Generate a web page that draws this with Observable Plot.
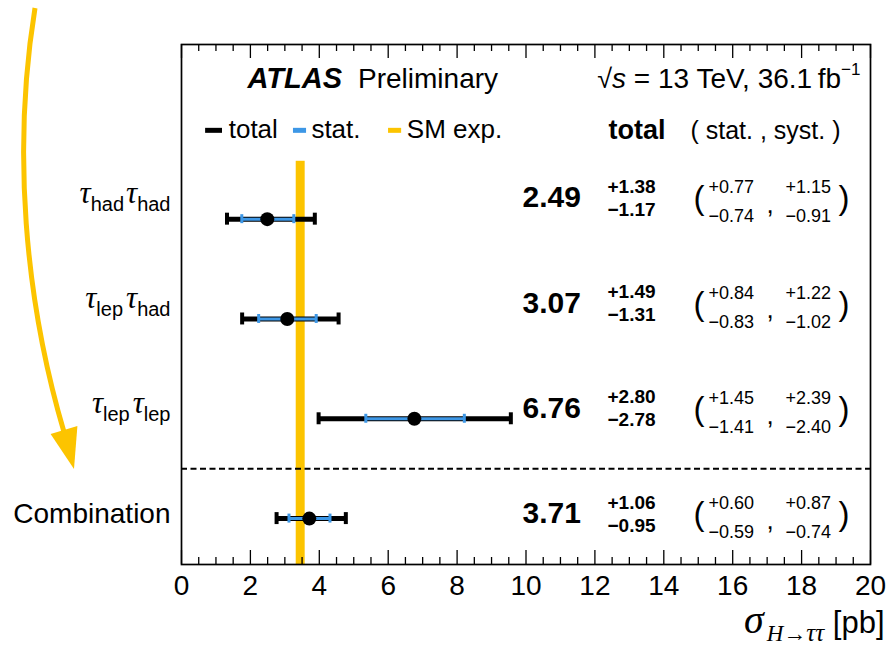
<!DOCTYPE html>
<html><head><meta charset="utf-8">
<script src="https://cdn.jsdelivr.net/npm/d3@7"></script>
<script src="https://cdn.jsdelivr.net/npm/@observablehq/plot@0.6"></script>
<style>body{margin:0;background:#fff;} svg{display:block}</style>
</head><body><div id="chart"></div>
<script>
// ---- data (bottom row first) ----
const channels = ["Combination", "τlepτlep", "τlepτhad", "τhadτhad"];
const central   = [3.71, 6.76, 3.07, 2.49];
const totalUp   = [1.06, 2.80, 1.49, 1.38];
const totalDown = [0.95, 2.78, 1.31, 1.17];
const statUp    = [0.60, 1.45, 0.84, 0.77];
const statDown  = [0.59, 1.41, 0.83, 0.74];
const systUp    = [0.87, 2.39, 1.22, 1.15];
const systDown  = [0.74, 2.40, 1.02, 0.91];
const smExpected = 3.46;
const smUncertainty = 0.13;
const xTickLabels = [0, 2, 4, 6, 8, 10, 12, 14, 16, 18, 20];
const legendLabels = ["total", "stat.", "SM exp."];
const legendColors = ["#000000", "#3d97e6", "#fcc400"];

const sans = "Liberation Sans, Arial, Helvetica, sans-serif";
const serif = "Liberation Serif, 'DejaVu Serif', serif";
const blue = legendColors[1], yellow = legendColors[2];
const f2 = d3.format(".2f");
const plus = v => "+" + f2(v), minus = v => "\u2212" + f2(v);

const rows = channels.map((name, i) => ({
  name, i, v: central[i], tu: totalUp[i], td: totalDown[i],
  su: statUp[i], sd: statDown[i], yu: systUp[i], yd: systDown[i],
  ty: i + 0.05 + 0.055 * i
}));
const minorTicks = d3.range(0, 20.001, 0.5).filter(t => t % 2 !== 0);
const Y0 = -0.46, Y1 = 4.75;

const rowText = (text, dx, dy, fontSize, fontWeight = "normal") =>
  Plot.text(rows, {y: "ty", frameAnchor: "left", textAnchor: "start", lineAnchor: "middle",
    dx, dy, text, fontSize, fontWeight, fill: "black"});

const svg = Plot.plot({
  width: 887, height: 648,
  marginLeft: 181, marginRight: 17, marginTop: 44, marginBottom: 84,
  style: {fontFamily: sans, background: "white", overflow: "visible", color: "black"},
  x: {domain: [0, 20], axis: null},
  y: {domain: [Y0, Y1], axis: null},
  color: {type: "identity"},
  marks: [
    // SM expectation band
    Plot.rect([smExpected], {x1: d => d - smUncertainty, x2: d => d + smUncertainty, y1: Y0, y2: 3.58, fill: yellow}),
    // separator
    Plot.ruleY([0.5], {stroke: "black", strokeWidth: 2, strokeDasharray: "6 3.5"}),
    // total error bars
    Plot.ruleY(rows, {y: "i", x1: d => d.v - d.td, x2: d => d.v + d.tu, stroke: "black", strokeWidth: 5}),
    Plot.ruleX(rows.flatMap(d => [{x: d.v - d.td, i: d.i}, {x: d.v + d.tu, i: d.i}]),
      {x: "x", y1: d => d.i - 0.06, y2: d => d.i + 0.06, stroke: "black", strokeWidth: 4}),
    // stat error bars
    Plot.ruleY(rows, {y: "i", x1: d => d.v - d.sd, x2: d => d.v + d.su, stroke: blue, strokeWidth: 3}),
    Plot.ruleX(rows.flatMap(d => [{x: d.v - d.sd, i: d.i}, {x: d.v + d.su, i: d.i}]),
      {x: "x", y1: d => d.i - 0.045, y2: d => d.i + 0.045, stroke: blue, strokeWidth: 3}),
    Plot.dot(rows, {x: "v", y: "i", r: 7, fill: "black"}),
    // frame and ticks
    Plot.frame({stroke: "black", strokeWidth: 1.7}),
    Plot.ruleX(xTickLabels, {x: d => d, y1: Y0, y2: Y0 + 0.14, stroke: "black", strokeWidth: 1.3}),
    Plot.ruleX(xTickLabels, {x: d => d, y1: Y1 - 0.14, y2: Y1, stroke: "black", strokeWidth: 1.3}),
    Plot.ruleX(minorTicks, {x: d => d, y1: Y0, y2: Y0 + 0.07, stroke: "black", strokeWidth: 1.3}),
    Plot.ruleX(minorTicks, {x: d => d, y1: Y1 - 0.07, y2: Y1, stroke: "black", strokeWidth: 1.3}),
    Plot.text(xTickLabels, {x: d => d, frameAnchor: "bottom", lineAnchor: "top", dy: 11, fontSize: 28, text: d => String(d), fill: "black"}),
    // channel labels
    Plot.text(rows, {y: "ty", frameAnchor: "left", textAnchor: "end", lineAnchor: "middle", dx: -11, text: "name", fontSize: 28, fill: "black"}),
    // numbers
    rowText(d => f2(d.v), 341, 0, 30, "bold"),
    rowText(d => plus(d.tu), 426, -11, 19, "bold"),
    rowText(d => minus(d.td), 426, 12, 19, "bold"),
    rowText(() => "(", 512, 1, 33),
    rowText(d => plus(d.su), 527, -10, 18),
    rowText(d => minus(d.sd), 527, 19, 18),
    rowText(() => ",", 585, 7, 26),
    rowText(d => plus(d.yu), 604, -10, 18),
    rowText(d => minus(d.yd), 604, 19, 18),
    rowText(() => ")", 657, 1, 33),
    // header
    Plot.text(["ATLASHEADER"], {frameAnchor: "top-left", textAnchor: "start", lineAnchor: "middle", dx: 66, dy: 33, text: d => d, fontSize: 28, fill: "black"}),
    Plot.text(["ENERGYHEADER"], {frameAnchor: "top-right", textAnchor: "end", lineAnchor: "middle", dx: -10, dy: 33, text: d => d, fontSize: 28, fill: "black"}),
    Plot.text(["total"], {frameAnchor: "top-left", textAnchor: "start", lineAnchor: "middle", dx: 427, dy: 86, text: d => d, fontSize: 27, fontWeight: "bold", fill: "black"}),
    Plot.text(["( stat. , syst. )"], {frameAnchor: "top-left", textAnchor: "start", lineAnchor: "middle", dx: 509, dy: 86, text: d => d, fontSize: 25, fill: "black"}),
    // legend
    Plot.ruleY(legendLabels, {y: 3.89, x1: (d, i) => [0.70, 3.25, 6.01][i], x2: (d, i) => [1.19, 3.63, 6.39][i], stroke: (d, i) => legendColors[i], strokeWidth: 5}),
    Plot.text(legendLabels, {frameAnchor: "top", textAnchor: "start", lineAnchor: "middle", dy: 85, x: (d, i) => [1.37, 3.77, 6.54][i], text: d => d, fontSize: 26, fill: "black"}),
    // x axis label
    Plot.text(["XLABEL"], {frameAnchor: "bottom-right", textAnchor: "end", lineAnchor: "middle", dx: 14, dy: 68, text: d => d, fontSize: 28, fill: "black"})
  ]
});

// ---- rich text (sub/superscripts, Greek) ----
const tau = {family: serif, style: "italic", size: 31};
const richSpecs = {
  "τhadτhad": [["τ", {...tau, dy: 5}], ["had", {size: 20, dy: 8}], ["τ", {...tau, dy: -8, dx: 2}], ["had", {size: 20, dy: 8}]],
  "τlepτhad": [["τ", {...tau, dy: 5}], ["lep", {size: 20, dy: 8}], ["τ", {...tau, dy: -8, dx: 3}], ["had", {size: 20, dy: 8}]],
  "τlepτlep": [["τ", {...tau, dy: 5}], ["lep", {size: 20, dy: 8}], ["τ", {...tau, dy: -8, dx: 3}], ["lep", {size: 20, dy: 8}]],
  "ATLASHEADER": [["ATLAS", {weight: "bold", style: "italic", size: 29, dy: 10}], ["Preliminary", {size: 28, dx: 16}]],
  "ENERGYHEADER": [["\u221A", {size: 27, dy: 10}], ["s", {style: "italic", size: 28}], [" = 13 TeV, 36.1\u2009fb", {size: 28}], ["\u22121", {size: 17, dy: -13}]],
  "XLABEL": [["σ", {family: serif, style: "italic", size: 40}], ["H\u2192", {family: serif, style: "italic", size: 23, dy: 8, dx: 3}], ["ττ", {family: serif, style: "italic", size: 25}], [" [pb]", {size: 31, dy: -8}]]
};
d3.select(svg).selectAll("text").each(function () {
  const spec = richSpecs[this.textContent];
  if (!spec) return;
  const yAttr = this.getAttribute("y");
  if (yAttr && /em$/.test(yAttr)) this.setAttribute("y", 0);
  const dyAttr = this.getAttribute("dy");
  if (dyAttr && /em$/.test(dyAttr)) this.removeAttribute("dy");
  const t = d3.select(this).text(null);
  for (const [s, o] of spec) {
    const ts = t.append("tspan").text(s);
    if (o.family) ts.attr("font-family", o.family);
    if (o.style) ts.attr("font-style", o.style);
    if (o.weight) ts.attr("font-weight", o.weight);
    if (o.size) ts.attr("font-size", o.size);
    if (o.dy) ts.attr("dy", o.dy);
    if (o.dx) ts.attr("dx", o.dx);
  }
});

// ---- decorative curved arrow at the left ----
const deco = d3.select(svg).append("g");
deco.append("path").attr("d", "M35,8 C12,150 25,300 64,432").attr("fill", "none").attr("stroke", yellow).attr("stroke-width", 5);
deco.append("path").attr("d", "M50.6,434 L77.4,426 L74,469 Z").attr("fill", yellow);

document.getElementById("chart").appendChild(svg);
</script>
</body></html>
